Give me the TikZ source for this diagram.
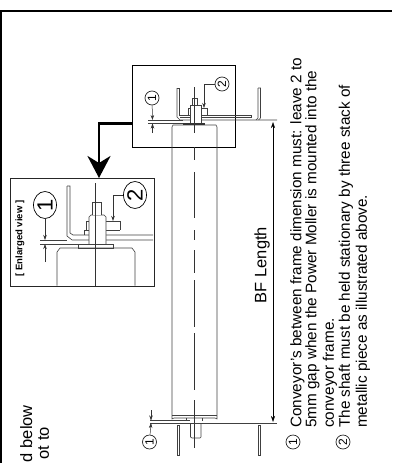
\documentclass[tikz,border=0pt]{standalone}
\usepackage{fontspec}
\setmainfont{Liberation Sans}
\usetikzlibrary{arrows.meta,shapes.geometric}
\tikzset{
    part/.style={draw=black!75,line width=0.6pt},
    centreline/.style={draw=black!80,line width=0.5pt},
    dimline/.style={draw=black!80,line width=0.5pt,-{Stealth[length=5pt,width=3.5pt]}},
    callout/.style={circle,draw=black!85,line width=0.7pt,inner sep=0pt,minimum size=14pt,rotate=90,font=\fontsize{12}{12}\selectfont},
    bigcallout/.style={ellipse,draw=black,line width=0.7pt,inner sep=0pt,minimum width=27pt,minimum height=23pt,rotate=90,font=\fontsize{22}{22}\selectfont},
    noteline/.style={rotate=90,anchor=north west,inner sep=0pt,font=\fontsize{15.3}{15.3}\selectfont},
    cutline/.style={rotate=90,anchor=north east,inner sep=0,font=\fontsize{16.5}{16.5}\selectfont},
}
\begin{document}
\begin{tikzpicture}[x=1pt,y=-1pt]
    \pgfmathsetmacro{\shaftx}{194.5}
    \pgfmathsetmacro{\dimx}{273}
    \useasboundingbox (0,0) rectangle (392,463);
    % outer frame
    \draw[line width=2pt] (1,463) -- (1,10.5) -- (392,10.5);
    % boxes
    \node[draw,line width=1pt,minimum width=103.5pt,minimum height=81.5pt,inner sep=0,anchor=north west] (zoombox) at (131.5,65) {};
    \node[draw=black!85,line width=1.2pt,minimum width=144pt,minimum height=108pt,inner sep=0,anchor=north west] (viewbox) at (10,178) {};
    \coordinate (bendstart) at (131.5,123.5);
    \coordinate (bendend) at (99,178);
    \draw[line width=2.6pt,-{Stealth[length=22pt,width=23pt,inset=7pt]}] (bendstart) -| (bendend);
    % roller
    \draw[part] (172,419) -- (172,127) -- (173,125) -- (216,125) -- (217,127) -- (217,419) -- (215,418) -- (174,418) -- cycle;
    \draw[part] (172,415) -- (217,415);
    \foreach \ya/\yb in {147/160,172/218,230/240,250/273,280/327,333/390,400/448}
        \draw[centreline] (\shaftx,\ya) -- (\shaftx,\yb);
    % far end of the roller
    \draw[part] (177,88) -- (177,117) -- (180,120) -- (277,120);
    \draw[part] (177,88) -- (179.5,88) -- (179.5,115) -- (251,115) -- (251,117.5) -- (180,117.5);
    \draw[part] (258,88) -- (258,118) -- (256,120);
    \draw[part] (258,88) -- (260.5,88) -- (260.5,118) -- (258.5,120);
    \draw[part] (188,115) -- (188,108) -- (207,108) -- (207,115);
    \draw[part,fill=white] (190,123) rectangle (201,105);
    \draw[part,fill=white] (192,105) rectangle (197,98);
    \fill[black!80] (183,123) rectangle (205,125);
    \draw[centreline] (\shaftx,87) -- (\shaftx,133);
    \draw[part] (148,120.5) -- (183,120.5);
    \draw[part] (148,123.5) -- (183,123.5);
    % near end of the roller
    \draw[part] (150,420.5) -- (190,420.5);
    \draw[part] (150,423) -- (277,423);
    \draw[part] (177,425) rectangle (179.5,455);
    \draw[part] (258,425) rectangle (260.5,455);
    \draw[part] (186,418) -- (186,421);
    \draw[part] (202,418) -- (202,421);
    \draw[part] (190.5,423) -- (190.5,437) -- (192,438) -- (200,438) -- (201,437) -- (201,423);
    % dimension
    \coordinate (bftop) at (\dimx,122);
    \coordinate (bfbottom) at (\dimx,422);
    \draw[line width=0.5pt,{Stealth[length=6pt,width=4pt]}-{Stealth[length=6pt,width=4pt]}] (bftop) -- (bfbottom);
    \node[rotate=90,inner sep=0,font=\fontsize{16.5}{16.5}\selectfont] (bflabel) at (262,265) {BF Length};
    % callouts, box
    \node[callout] (gapa) at (152,98) {1};
    \node[callout] (stacka) at (222,84) {2};
    \coordinate (gapatop) at (152.5,120);
    \coordinate (gapabottom) at (152.5,123.5);
    \coordinate (gapaend) at (152.5,133);
    \coordinate (stackaend) at (204,108);
    \draw[dimline] (gapa) -- (gapatop);
    \draw[dimline] (gapaend) -- (gapabottom);
    \draw[dimline] (stacka.north) -| (stackaend);
    % callout, near end
    \node[callout] (gapb) at (149.5,442) {1};
    \coordinate (gapbtop) at (151,420.5);
    \coordinate (gapbstart) at (151,410);
    \coordinate (gapbbottom) at (151,423);
    \draw[dimline] (gapbstart) -- (gapbtop);
    \draw[dimline] (gapb) -- (gapbbottom);
    % enlarged view
    \draw[part] (67,186) -- (67,236) -- (72,240) -- (153,240);
    \draw[part] (67,186) -- (70,186) -- (70,233) -- (73,235) -- (153,235);
    \draw[part] (84,235) -- (84,230) -- (120,230);
    \draw[part] (86,230) -- (86,221) -- (120,221) -- (120,230);
    \draw[part,fill=white] (89,248) -- (89,217) -- (91,215) -- (104,215) -- (106,217) -- (106,248);
    \draw[part,fill=white] (92,215) -- (92,202) -- (101,202) -- (101,215);
    \draw[part,fill=white] (78,244) rectangle (113,248);
    \draw[part] (57,285.5) -- (57,252) -- (60,248) -- (132,248) -- (135,252) -- (135,285.5);
    \draw[centreline] (95.5,183) -- (95.5,285.5);
    \draw[part] (40,240.5) -- (67,240.5);
    \draw[part] (40,244) -- (78,244);
    \node[bigcallout] (gapc) at (45,205) {1};
    \node[bigcallout] (stackc) at (135,195) {2};
    \coordinate (gapctop) at (45,240);
    \coordinate (gapcbottom) at (45,244);
    \coordinate (gapcend) at (45,262);
    \coordinate (stackcend) at (113,221);
    \draw[dimline] (gapc) -- (gapctop);
    \draw[dimline] (gapcend) -- (gapcbottom);
    \draw[dimline,line width=0.7pt] (stackc.north) -| (stackcend);
    \node[rotate=90,inner sep=0,font=\bfseries\fontsize{9.5}{9.5}\selectfont] (viewlabel) at (20,238.5) {[ Enlarged view ]};
    % notes
    \node[noteline] (notea) at (290,428) {Conveyor's between frame dimension must: leave 2 to};
    \node[noteline] (noteb) at (305,428) {5mm gap when the Power Moller is mounted into the};
    \node[noteline] (notec) at (322.5,428) {conveyor frame.};
    \node[noteline] (noted) at (338.5,428) {The shaft must be held stationary by three stack of};
    \node[noteline] (notee) at (355.5,428) {metallic piece as illustrated above.};
    \node[callout] (marka) at (293,442) {1};
    \node[callout] (markb) at (343,442) {2};
    % cut off text
    \node[cutline] (cuta) at (20,405) {d below};
    \node[cutline] (cutb) at (38,427) {ot to};
\end{tikzpicture}
\end{document}
